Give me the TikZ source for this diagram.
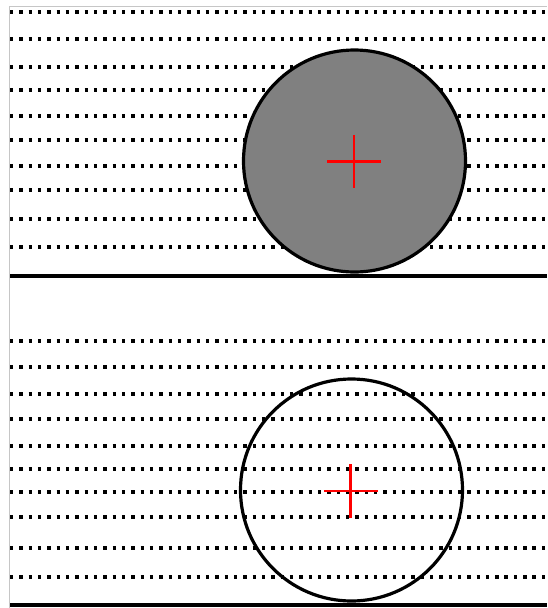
\documentclass[tikz,border=0pt]{standalone}
\begin{document}
\begin{tikzpicture}[x=1pt,y=-1pt,
  dotline/.style={line width=3.4pt,dash pattern=on 3.4pt off 5.93pt,line cap=butt},
  ground/.style={line width=4.2pt},
  ball/.style={line width=3.2pt},
  crossmark/.style={red,line width=2.4pt},
  frameline/.style={gray!45,line width=1pt}]
\useasboundingbox (0,0) rectangle (547,608);
\fill[white] (0,0) rectangle (547,608);
\draw[frameline] (9,608) -- (9,6) -- (547,6);
% top panel
\foreach \y in {12,39,67,90,116,140,166,190,219,247}
  \draw[dotline] (10,\y) -- (547,\y);
\draw[ground] (10,276) -- (547,276);
\draw[ball,fill={rgb,255:red,128;green,128;blue,128}] (354.5,161) circle[radius=111];
\draw[crossmark] (327,161.5) -- (381,161.5) (354,135) -- (354,188);
% bottom panel
\foreach \y in {341,367,394,419,446,469,492,517,548,577}
  \draw[dotline] (10,\y) -- (547,\y);
\draw[ground] (10,605) -- (547,605);
\draw[ball] (351.5,490) circle[radius=111];
\draw[crossmark] (324,491) -- (378,491) (350.5,464) -- (350.5,518);
\end{tikzpicture}
\end{document}
